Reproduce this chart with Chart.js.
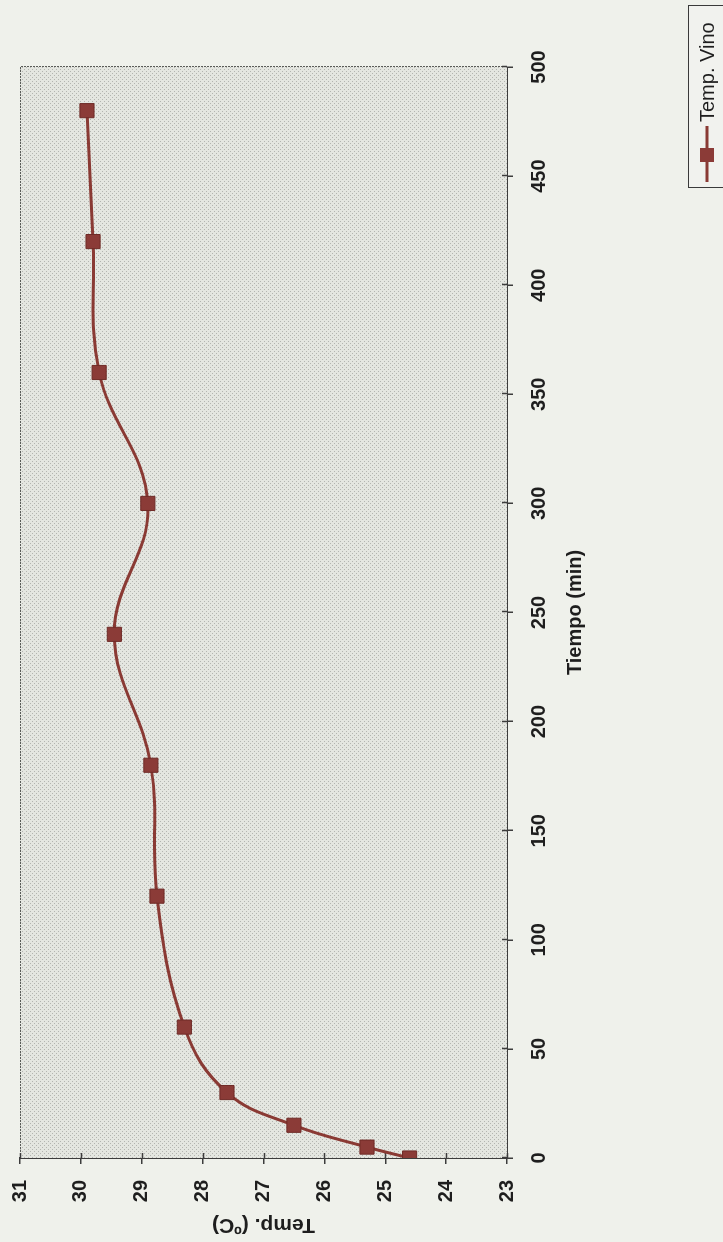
<!DOCTYPE html>
<html>
<head>
<meta charset="utf-8">
<title>Temp. Vino</title>
<script src="https://cdn.jsdelivr.net/npm/chart.js@4.4.1/dist/chart.umd.min.js"></script>
<style>
  html, body { margin: 0; padding: 0; background: #eff1eb; }
  #page { position: relative; width: 723px; height: 1242px; overflow: hidden; background: #eff1eb; }
  /* the chart is laid out landscape and turned a quarter turn counter-clockwise */
  #chart { position: absolute; left: 0; top: 0; transform-origin: 0 0;
           transform: translate(0, 1242px) rotate(-90deg); }
</style>
</head>
<body>
<div id="page"><canvas id="chart" width="1242" height="723"></canvas></div>
<script>
// Wine temperature during the oxidation test
const tiempoMin = [0, 5, 15, 30, 60, 120, 180, 240, 300, 360, 420, 480];
const tempVino  = [24.6, 25.3, 26.5, 27.6, 28.3, 28.75, 28.85, 29.45, 28.9, 29.7, 29.8, 29.9];
const serieNombre = 'Temp. Vino';
const tituloX = 'Tiempo (min)';
const tituloY = 'Temp. (ºC)';

const lineColor = '#8a3a34';
const fontFamily = "'Liberation Sans', Arial, sans-serif";

// halftone fill for the plot area
function halftone(ctx) {
  const t = document.createElement('canvas');
  t.width = 4; t.height = 4;
  const c = t.getContext('2d');
  c.fillStyle = '#e4e6e0'; c.fillRect(0, 0, 4, 4);
  c.fillStyle = '#b3b5b0';
  c.fillRect(0, 0, 1, 1); c.fillRect(2, 2, 1, 1);
  return ctx.createPattern(t, 'repeat');
}

const plotFrame = {
  id: 'plotFrame',
  beforeDatasetsDraw(chart) {
    const { ctx, chartArea: a } = chart;
    ctx.save();
    ctx.fillStyle = halftone(ctx);
    ctx.fillRect(a.left, a.top, a.right - a.left, a.bottom - a.top);
    // dotted frame on the two open sides
    ctx.strokeStyle = '#5a5c58';
    ctx.lineWidth = 1;
    ctx.setLineDash([2, 1]);
    ctx.beginPath();
    ctx.moveTo(a.left, a.top + 0.5); ctx.lineTo(a.right + 0.5, a.top + 0.5);
    ctx.lineTo(a.right + 0.5, a.bottom);
    ctx.stroke();
    ctx.setLineDash([]);
    // short tick marks on the inner side of both axes
    ctx.strokeStyle = '#3c3c3c';
    ctx.lineWidth = 1.5;
    const xs = chart.scales.x, ys = chart.scales.y;
    ctx.beginPath();
    xs.ticks.forEach(t => {
      const px = Math.round(xs.getPixelForValue(t.value)) + 0.5;
      ctx.moveTo(px, a.bottom); ctx.lineTo(px, a.bottom - 5);
    });
    ys.ticks.forEach(t => {
      const py = Math.round(ys.getPixelForValue(t.value)) + 0.5;
      ctx.moveTo(a.left, py); ctx.lineTo(a.left + 5, py);
    });
    ctx.stroke();
    ctx.restore();
  }
};

const legendBox = {
  id: 'legendBox',
  afterDraw(chart) {
    const { ctx } = chart;
    const ds = chart.data.datasets[0];
    const x0 = 1054, x1 = 1236, y0 = 688, yc = 707;
    ctx.save();
    ctx.fillStyle = '#f1f2ee';
    ctx.fillRect(x0, y0, x1 - x0, 40);
    ctx.strokeStyle = '#3a3a3a';
    ctx.lineWidth = 1;
    ctx.strokeRect(x0 + 0.5, y0 + 0.5, x1 - x0, 40);
    ctx.strokeStyle = ds.borderColor;
    ctx.lineWidth = 3;
    ctx.beginPath(); ctx.moveTo(1060, yc); ctx.lineTo(1116, yc); ctx.stroke();
    ctx.fillStyle = ds.pointBackgroundColor;
    ctx.fillRect(1080, yc - 7, 14, 14);
    ctx.fillStyle = '#1e1e1e';
    ctx.font = '20px ' + fontFamily;
    ctx.textBaseline = 'middle';
    ctx.fillText(ds.label, 1120, yc + 1);
    ctx.restore();
  }
};

new Chart(document.getElementById('chart'), {
  type: 'line',
  data: {
    datasets: [{
      label: serieNombre,
      data: tiempoMin.map((t, i) => ({ x: t, y: tempVino[i] })),
      borderColor: lineColor,
      borderWidth: 3,
      tension: 0.4,
      pointStyle: 'rect',
      pointRadius: 10,
      pointBackgroundColor: '#8b3b37',
      pointBorderColor: '#6f2b27',
      pointBorderWidth: 1
    }]
  },
  options: {
    responsive: false,
    animation: false,
    devicePixelRatio: 1,
    layout: { padding: { left: 5, right: 67, top: 20, bottom: 136 } },
    plugins: { legend: { display: false }, tooltip: { enabled: false } },
    scales: {
      x: {
        type: 'linear', min: 0, max: 500,
        afterFit(s) { s.height = 80; },
        border: { color: '#3c3c3c', width: 2 },
        grid: { drawOnChartArea: false, tickLength: 6, color: '#3c3c3c', lineWidth: 1.5 },
        ticks: { stepSize: 50, maxRotation: 0, padding: 14, color: '#1e1e1e',
                 font: { family: fontFamily, size: 20, weight: 'bold' } },
        title: { display: true, text: tituloX, color: '#1e1e1e', padding: 0,
                 font: { family: fontFamily, size: 20, weight: 'bold' } }
      },
      y: {
        min: 23, max: 31,
        afterFit(s) { s.width = 79; s.paddingTop = 0; s.paddingBottom = 0; },
        border: { color: '#3c3c3c', width: 2 },
        grid: { drawOnChartArea: false, tickLength: 6, color: '#3c3c3c', lineWidth: 1.5 },
        ticks: { stepSize: 1, padding: 16, color: '#1e1e1e',
                 font: { family: fontFamily, size: 20, weight: 'bold' } },
        title: { display: true, text: tituloY, color: '#1e1e1e', padding: 0,
                 font: { family: fontFamily, size: 21, weight: 'bold' } }
      }
    }
  },
  plugins: [plotFrame, legendBox]
});
</script>
</body>
</html>
